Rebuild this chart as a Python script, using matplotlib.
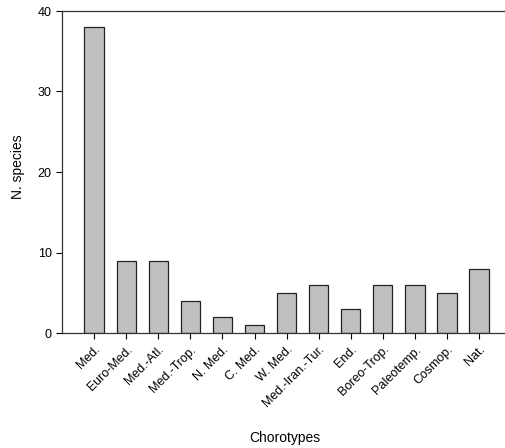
import numpy as np
import matplotlib.pyplot as plt

plt.rcParams['font.family'] = ['Liberation Sans', 'DejaVu Sans']

chorotypes = ['Med.', 'Euro-Med.', 'Med.-Atl.', 'Med.-Trop.', 'N. Med.', 'C. Med.', 'W. Med.',
              'Med.-Iran.-Tur.', 'End.', 'Boreo-Trop.', 'Paleotemp.', 'Cosmop.', 'Nat.']
n_species = [38, 9, 9, 4, 2, 1, 5, 6, 3, 6, 6, 5, 8]

fig = plt.figure(figsize=(5.06, 4.48), dpi=100)
ax = fig.add_axes([62 / 506, 1 - 333 / 448, 446 / 506, 322 / 448])

x = np.arange(len(chorotypes))
ax.bar(x, n_species, width=0.6, color='#c0c0c0', edgecolor='#222222', linewidth=0.9)

ax.set_xlim(-1, 12.9)
ax.set_ylim(0, 40)
ax.set_yticks([0, 10, 20, 30, 40])
ax.set_xticks(x)
ax.set_xticklabels(chorotypes, rotation=45, ha='right', rotation_mode='anchor', fontsize=9)
ax.tick_params(axis='y', labelsize=9, direction='out', length=4, width=0.8)
ax.tick_params(axis='x', direction='out', length=4, width=0.8)

ax.spines['right'].set_visible(False)
for s in ['left', 'top', 'bottom']:
    ax.spines[s].set_linewidth(0.9)
    ax.spines[s].set_color('#333333')

ax.set_ylabel('N. species', fontsize=10)
ax.yaxis.set_label_coords(-0.083, 0.515)
ax.set_xlabel('Chorotypes', fontsize=10)
ax.xaxis.set_label_coords(0.5, -0.305)

plt.savefig('out.png', dpi=100)
